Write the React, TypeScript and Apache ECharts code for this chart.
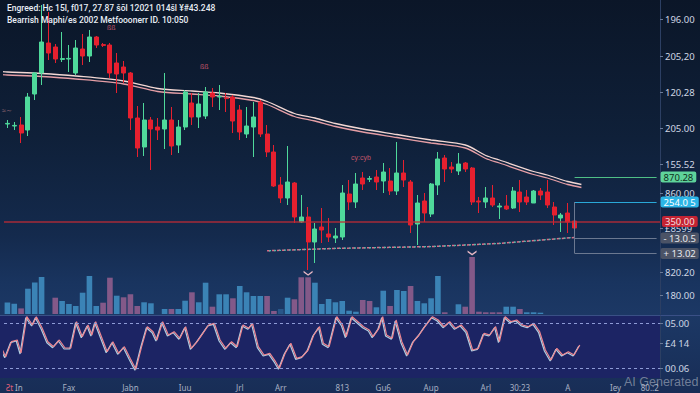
import React, { useEffect, useRef } from 'react';
import * as echarts from 'echarts';

// ---------- data ----------
const categoryCount = 96;
const xTickLabels = ['Ƨt In', 'Fax', 'Jabn', 'Iuu', 'Jrl', 'Arr', '813', 'Gu6', 'Aup', 'Arl', '30:23', 'A', 'Iey', '80.:2'];
const xTickIndex = [1, 9, 18, 26, 34, 40, 49, 55, 62, 70, 75, 82, 89, 94];

const priceTicks = [234.5, 216, 198, 180, 162, 147.5, 130, 108, 96.5];
const priceTickLabels = ['196.00', '205,20', '120,28', '205.00', '155.52', '860.00', '£8599', '820.20', '180.00'];
const rsiTicks = [75, 55, 30];
const rsiTickLabels = ['05.00', '£4 14', '00.06'];

// [open, close, low, high]
const candles = [
  [182, 182.3, 180, 184], [181, 181.3, 179, 183], [181.5, 177.5, 172.5, 185.5], [179, 195.5, 176, 197.5],
  [197, 207.5, 194, 208], [207.5, 223, 201.5, 241.5], [222.5, 217.5, 214, 238], [220.5, 214.5, 212.5, 222],
  [214.3, 214.7, 213, 228], [214.5, 214.8, 208, 221.5], [207.5, 220, 206.5, 224], [219.5, 216, 211.5, 227],
  [216, 225.5, 213, 229], [225.5, 221.5, 220, 226], [221.7, 221.3, 220.5, 222.5], [221.5, 207.5, 205, 222.5],
  [212.5, 207, 197.5, 217.5], [210.5, 207.5, 202.5, 213.5], [207.5, 185, 179, 208], [185, 170, 165.5, 191],
  [170.5, 184, 166, 192.5], [184, 179.5, 159, 185.5], [180.5, 179, 174, 185], [179.5, 184, 169.5, 207.5],
  [184, 171, 166.5, 190.5], [171.5, 180.5, 167.5, 184], [180.5, 198, 179, 199], [192.5, 185.5, 181.5, 197.5],
  [185.5, 192, 180, 197.5], [186, 198, 184.5, 200.5], [197.5, 195.5, 190.5, 200], [195.5, 195.8, 189, 201.5],
  [195, 194.7, 188, 197.5], [195.5, 183.5, 177.5, 196.5], [189, 178, 174, 191.5], [177, 181, 175, 190.5],
  [180.5, 185.5, 165.5, 193], [193, 177, 175.5, 194], [177, 168, 165.5, 181.5], [168, 151, 150.5, 171.5],
  [151.5, 145, 142.5, 155.5], [145, 153, 141.5, 171], [152.5, 135.5, 132.5, 153], [133, 135.5, 132.5, 146.5],
  [135.5, 123, 109, 140.5], [123, 129.5, 112.5, 132.5], [130.5, 129, 122.5, 140], [127, 125.5, 123, 135],
  [125, 126, 122.5, 130], [125.5, 147.5, 124, 151.5], [147, 143, 139, 154], [143, 152, 140, 157.5],
  [155, 152, 149, 158], [154.4, 154.7, 153, 156], [155.5, 153, 149, 159], [153.5, 158, 147.5, 162.5],
  [153.5, 148.5, 146.5, 160], [148.5, 157.5, 146.5, 173], [157.5, 154, 150.5, 164], [153, 131.5, 127.5, 154],
  [132, 142.5, 121.5, 146.5], [143.5, 137.5, 133, 147.5], [137, 152, 135.5, 152.5], [151.5, 164.5, 146.5, 168],
  [165, 159.5, 153, 166.5], [160.5, 159.5, 157.5, 163], [158.5, 162, 156.5, 167.5], [162.5, 159.5, 158, 163],
  [160, 143, 141.5, 160.5], [143.5, 143, 137.5, 145.5], [143, 145, 140, 150.5], [145, 141.5, 140.5, 151.5],
  [140.5, 141, 134.5, 142.5], [141, 139.5, 139, 146.5], [140, 148.5, 139.5, 150.5], [148, 143, 138, 154],
  [145.5, 143, 141.5, 149], [142.5, 148.5, 142.5, 149], [148.5, 146.5, 144, 150], [148, 141.5, 140, 154],
  [140.5, 136.5, 131.5, 143], [135, 136.5, 128, 137.5], [137.5, 133, 127.5, 142.5], [133.5, 130, 126.5, 143],
];

const maIndex = [-1, 0, 5, 10, 17, 22, 27, 31, 36, 38, 42, 45, 48, 52, 57, 62, 67, 70, 72, 77, 79, 82, 84];
const maValues = [208.2, 208, 207.25, 206, 203.5, 199.75, 198.5, 197.5, 195.25, 193.25, 187.25, 185, 182.25, 179.5, 176.75, 174, 171.5, 166.25, 164, 158.25, 156.5, 153.25, 151.75];

const waveIndex = [38, 48, 62, 72, 83];
const waveValues = [118.6, 119.8, 120.7, 122.3, 125.3];

const volumes = [
  232, 206, 112, 506, 632, 740, 0, 326, 260, 200, 160, 426, 760, 160, 226, 726, 366, 334, 394, 160,
  234, 214, 0, 100, 100, 100, 266, 434, 234, 626, 146, 394, 394, 314, 560, 434, 360, 360, 360, 60,
  100, 326, 294, 734, 734, 626, 200, 300, 234, 260, 66, 46, 280, 260, 134, 466, 160, 480, 460, 560,
  260, 214, 314, 760, 34, 0, 194, 146, 1140, 46, 34, 34, 34, 146, 146, 100, 34, 34, 26,
];
const volumeSide = 'bbpbbbbpbbbbbbppbpppbbbbpbbpbbpbbpbbbbppdbpppbbbbbbbppbbpbbpbbbbpbbppppppbbpbbb';

const rsiTime = [0, 3, 6, 9, 11, 14, 17, 19, 22, 25, 28, 31, 34, 37, 40, 43, 46, 48, 50, 53, 56, 59, 62, 65, 68, 71, 74, 77, 80, 82, 85, 88, 91, 94, 97, 100, 103, 106, 109, 112, 115, 118, 121, 124, 127, 130, 132, 135, 138, 141, 144, 146, 149, 152, 155, 158, 161, 164, 167, 169, 172, 176, 179, 181, 184, 187, 190, 193, 195, 198, 200, 202, 205, 207, 210, 213, 216, 219, 222, 226, 229, 232, 235, 238, 241, 244, 247, 250, 253, 256, 259, 261, 264, 267, 270, 273, 276, 279, 282, 285, 288, 291, 294, 297, 300, 303];
const rsiValues = [
  53, 41.3, 56.3, 58, 45, 81.3, 73, 81.3, 70, 56.3,
  51.3, 58, 50, 50, 76.3, 61.3, 73, 63, 76.3, 61.3,
  46.3, 56.3, 44.7, 51.3, 39.7, 28.7, 51.3, 71.3, 66.3, 58,
  76.3, 63, 66.3, 59.7, 71.3, 49.7, 56.3, 64.7, 73, 74.7,
  58, 49.7, 56.3, 51.3, 73, 69.7, 74.7, 51.3, 43, 44.7,
  36.3, 29.7, 44.7, 54.7, 39.7, 41.3, 48, 63, 71.3, 54.7,
  51.3, 81.3, 73, 61.3, 81.3, 76.3, 71.3, 68, 61.3, 69.7,
  81.3, 63, 59.7, 78, 56.3, 43, 56.3, 63, 71.3, 81.3,
  78, 71.3, 76.3, 69.7, 73, 66.3, 48, 49.7, 64.7, 63,
  71.3, 56.3, 81.3, 76.3, 78, 73, 71.3, 74.7, 66.3, 48,
  38, 49.7, 43, 46.3, 43, 53,
];

// price tags on the right
const tagLevels = [155.5, 143, 133.3, 125, 117.3];
const tagTexts = ['870.28', '254.0 5', '350.00', '- 13.0.5', '+ 13.02'];
const tagColors = ['#5fd39b', '#2cb5e6', '#e3222f', '#4b5366', '#4b5366'];
const tagTextColors = ['#0f2f20', '#ffffff', '#ffffff', '#e6e9ef', '#e6e9ef'];

const titleLine1 = 'Engreed: Hc 15l, f017, 27.87 šõl 12021 014šl ¥#43.248';
const titleLine2 = 'Bearrish Maphi/es 2002 Metfooonerr ID. 10:050';

// ---------- component ----------
export default function App() {
  const ref = useRef<HTMLDivElement>(null);

  useEffect(() => {
    if (!ref.current) return;
    const chart = echarts.init(ref.current, undefined, { renderer: 'svg' });
    const cats = Array.from({ length: categoryCount }, (_, i) => `D${i + 1}`);
    const labelAt: Record<number, string> = {};
    xTickIndex.forEach((ix, k) => (labelAt[ix] = xTickLabels[k]));

    const lastIdx = candles.length - 1;
    const endIdx = categoryCount - 1;
    const tagLabel = (k: number, dist: number) => ({
      show: true,
      position: 'end',
      distance: dist,
      formatter: tagTexts[k],
      backgroundColor: tagColors[k],
      color: tagTextColors[k],
      padding: [1, 3, 0, 3],
      lineHeight: 10,
      borderRadius: 2,
      fontSize: 9.5,
      fontFamily: 'Noto Sans',
    });

    const markData: any[] = [];
    tagLevels.forEach((lv, k) => {
      if (k === 2) {
        markData.push({
          yAxis: lv,
          lineStyle: { color: '#c22a35', width: 1.6, type: 'solid', opacity: 0.85 },
          label: tagLabel(k, 2),
        });
      } else {
        markData.push([
          {
            coord: [lastIdx, lv],
            lineStyle: { color: k === 0 ? '#4fbf86' : k === 1 ? '#2aa8d8' : '#6b7890', width: 1, type: 'solid' },
            label: tagLabel(k, 4),
          },
          { coord: [endIdx, lv] },
        ]);
      }
    });
    markData.push([
      { coord: [lastIdx, tagLevels[1]], lineStyle: { color: '#6b7890', width: 1, type: 'solid' }, label: { show: false } },
      { coord: [lastIdx, tagLevels[4]] },
    ]);

    const volColor = (s: string) => (s === 'p' ? '#8f5d8d' : s === 'd' ? '#2b5a8c' : '#3f8cbf');

    const option: any = {
      animation: false,
      backgroundColor: new echarts.graphic.LinearGradient(0, 0, 0, 1, [
        { offset: 0, color: '#0b1628' },
        { offset: 0.35, color: '#0f2039' },
        { offset: 0.6, color: '#142a4d' },
        { offset: 0.72, color: '#19345f' },
        { offset: 0.8, color: '#1c3865' },
        { offset: 1, color: '#182d56' },
      ]),
      textStyle: { fontFamily: 'Noto Sans' },
      grid: [
        { left: 4, right: 40, top: 0, height: 314 },
        { left: 4, right: 40, top: 240, height: 74 },
        { left: 4, right: 40, top: 316, height: 62 },
      ],
      xAxis: [
        { type: 'category', gridIndex: 0, data: cats, show: false, boundaryGap: true },
        { type: 'category', gridIndex: 1, data: cats, show: false, boundaryGap: true },
        {
          type: 'category', gridIndex: 2, data: cats, boundaryGap: true,
          axisLine: { show: false }, axisTick: { show: false }, splitLine: { show: false },
          axisLabel: {
            interval: 0, margin: 5, fontSize: 8, color: '#a8b1c3',
            formatter: (_v: string, i: number) => {
              const s = labelAt[i] || '';
              if (s.startsWith('Ƨt')) return '{r|Ƨt}' + s.slice(2);
              return s;
            },
            rich: { r: { color: '#e0607a', fontSize: 8 } },
          },
        },
        { type: 'value', gridIndex: 2, min: 2.09, max: 344.9, show: false },
      ],
      yAxis: [
        {
          type: 'value', gridIndex: 0, position: 'right', min: 87, max: 244, scale: true,
          axisLine: { show: true, lineStyle: { color: '#2c3f63' } },
          axisTick: { show: true, length: 3, lineStyle: { color: '#6a7a98' }, customValues: priceTicks },
          splitLine: { show: false },
          axisLabel: {
            customValues: priceTicks, margin: 5, fontSize: 9.5, color: '#cfd6e4',
            formatter: (v: number) => {
              const k = priceTicks.findIndex((t) => Math.abs(t - v) < 0.01);
              return k >= 0 ? priceTickLabels[k] : '';
            },
          },
        },
        { type: 'value', gridIndex: 1, min: 0, max: 1480, show: false },
        {
          type: 'value', gridIndex: 2, position: 'right', min: 20, max: 82,
          axisLine: { show: true, lineStyle: { color: '#2c3f63' } },
          axisTick: { show: true, length: 3, lineStyle: { color: '#6a7a98' }, customValues: rsiTicks },
          splitLine: { show: false },
          axisLabel: {
            customValues: rsiTicks, margin: 5, fontSize: 9.5, color: '#cfd6e4',
            formatter: (v: number) => {
              const k = rsiTicks.findIndex((t) => Math.abs(t - v) < 0.01);
              return k >= 0 ? rsiTickLabels[k] : '';
            },
          },
        },
      ],
      graphic: [
        { type: 'rect', z: -10, silent: true, shape: { x: 0, y: 316, width: 660, height: 62 }, style: { fill: '#1c2464' } },
        { type: 'line', z: -9, silent: true, shape: { x1: 0, y1: 315.5, x2: 700, y2: 315.5 }, style: { stroke: '#3a5086', lineWidth: 1 } },
        { type: 'text', z: 100, left: 7, top: 3, style: { text: titleLine1, fill: '#e9eef6', fontSize: 8.5, fontWeight: 500, fontFamily: 'Roboto' } },
        { type: 'text', z: 100, left: 7, top: 15, style: { text: titleLine2, fill: '#e9eef6', fontSize: 8.5, fontWeight: 500, fontFamily: 'Roboto' } },
        { type: 'text', z: 100, left: 107, top: 24, style: { text: 'ßß', fill: '#c2566a', fontSize: 7 } },
        { type: 'text', z: 100, left: 200, top: 63, style: { text: 'ßß', fill: '#c2566a', fontSize: 7 } },
        { type: 'text', z: 100, left: 351, top: 154, style: { text: 'cy:cyb', fill: '#c2566a', fontSize: 7 } },
        { type: 'text', z: 100, left: 2, top: 107, style: { text: '≈∼', fill: '#a0707c', fontSize: 7 } },
        { type: 'text', z: 100, left: 624, top: 375, style: { text: 'AI Generated', fill: 'rgba(190,196,208,0.55)', fontSize: 12.5, fontFamily: 'Liberation Sans' } },
      ],
      series: [
        {
          type: 'bar', xAxisIndex: 1, yAxisIndex: 1, barWidth: 5.6, z: 1,
          data: volumes.map((v, i) => ({ value: v, itemStyle: { color: volColor(volumeSide[i]), opacity: 0.9 } })),
          markPoint: {
            symbol: 'path://M0,0 L5,4 L10,0 L10,2 L5,6 L0,2 Z', symbolSize: [9, 5], symbolOffset: [0, -4],
            itemStyle: { color: '#e8b8c4' }, label: { show: false },
            data: [{ coord: [68, volumes[68]] }, { coord: [44, volumes[44]] }],
          },
        },
        {
          type: 'line', xAxisIndex: 0, yAxisIndex: 0, data: maIndex.map((ix, k) => [ix, maValues[k]]),
          smooth: 0.3, showSymbol: false, clip: false, z: 3,
          lineStyle: { color: '#f3d8d4', width: 1.3, shadowColor: '#e59ea5', shadowOffsetY: 3, shadowBlur: 0 },
        },
        {
          type: 'line', xAxisIndex: 0, yAxisIndex: 0, data: waveIndex.map((ix, k) => [ix, waveValues[k]]),
          showSymbol: false, z: 3, lineStyle: { color: '#dc6c88', width: 1.5, type: [3, 2] },
        },
        {
          type: 'line', xAxisIndex: 0, yAxisIndex: 0, data: waveIndex.map((ix, k) => [ix, waveValues[k]]),
          showSymbol: false, z: 3, lineStyle: { color: '#56b9a8', width: 1.3, type: [2, 3], dashOffset: 2.5 },
        },
        {
          type: 'candlestick', xAxisIndex: 0, yAxisIndex: 0, data: candles, barWidth: 4.5, z: 4,
          itemStyle: { color: '#4fd99b', color0: '#e6202f', borderColor: '#4fd99b', borderColor0: '#e6202f', borderWidth: 1 },
          markLine: { symbol: ['none', 'none'], silent: true, animation: false, data: markData },
        },
        {
          type: 'line', xAxisIndex: 3, yAxisIndex: 2, data: rsiTime.map((t, k) => [t, rsiValues[k]]),
          showSymbol: false, clip: false, z: 3,
          lineStyle: { color: '#ee8590', width: 1.2, shadowColor: 'rgba(200,235,245,0.85)', shadowOffsetX: -1, shadowOffsetY: 1, shadowBlur: 0 },
          markLine: {
            symbol: ['none', 'none'], silent: true, label: { show: false },
            lineStyle: { color: '#8e9bd6', width: 1, type: [3, 3] },
            data: [{ yAxis: 75 }, { yAxis: 30 }],
          },
        },
      ],
    };
    chart.setOption(option);
    return () => chart.dispose();
  }, []);

  return <div ref={ref} style={{ position: 'fixed', left: 0, top: 0, width: 700, height: 393 }} />;
}
